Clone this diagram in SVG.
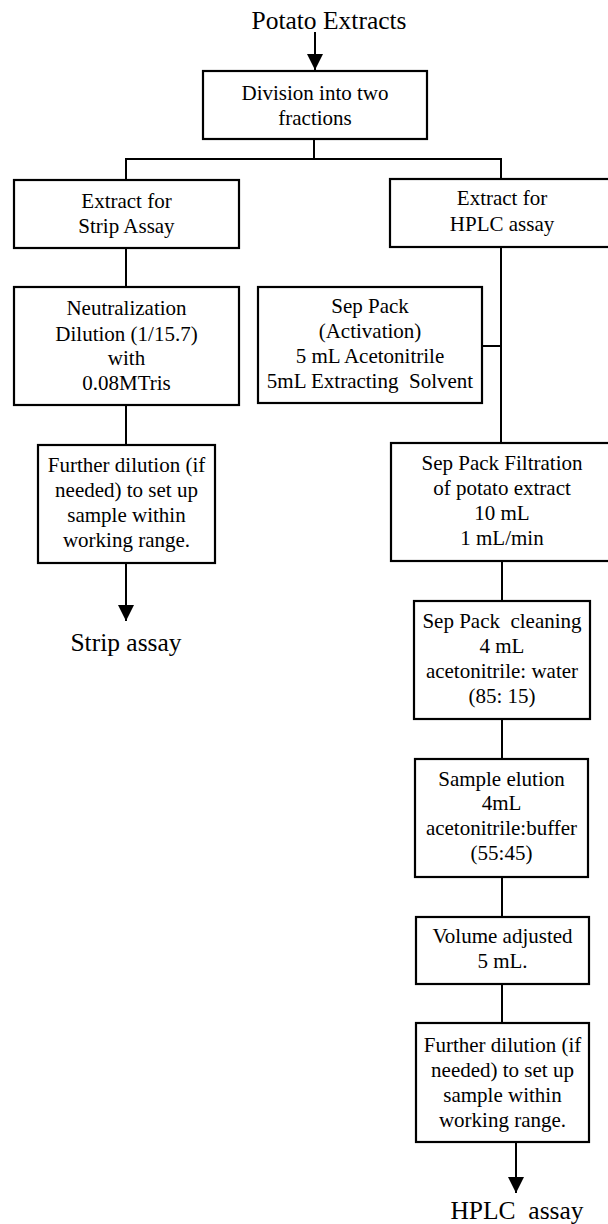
<svg xmlns="http://www.w3.org/2000/svg" width="608" height="1224" viewBox="0 0 608 1224">
<style>
  .box { fill: #ffffff; stroke: #000000; stroke-width: 2.2; }
  .ln { fill: none; stroke: #000000; stroke-width: 2; }
  text { font-family: "Liberation Serif", "Times New Roman", serif; fill: #000000; text-anchor: middle; }
  .t { font-size: 21px; }
  .lbl { font-size: 25.5px; }
</style>
<defs>
  <marker id="arr" viewBox="0 0 16 16" refX="16" refY="8" markerWidth="16" markerHeight="16" markerUnits="userSpaceOnUse" orient="auto">
    <path d="M0,0 L16,8 L0,16 Z" fill="#000000"/>
  </marker>
</defs>
<rect width="608" height="1224" fill="#ffffff"/>

<g id="connectors">
  <line class="ln" x1="315" y1="32" x2="315" y2="70" marker-end="url(#arr)"/>
  <line class="ln" x1="314" y1="139" x2="314" y2="159"/>
  <polyline class="ln" points="126,180 126,159 501,159 501,179"/>
  <line class="ln" x1="126" y1="248" x2="126" y2="287"/>
  <line class="ln" x1="126" y1="405" x2="126" y2="445"/>
  <line class="ln" x1="126" y1="563" x2="126" y2="621" marker-end="url(#arr)"/>
  <line class="ln" x1="501" y1="247" x2="501" y2="443"/>
  <line class="ln" x1="482" y1="346" x2="501" y2="346"/>
  <line class="ln" x1="502" y1="561" x2="502" y2="601"/>
  <line class="ln" x1="502" y1="719" x2="502" y2="759"/>
  <line class="ln" x1="502" y1="877" x2="502" y2="917"/>
  <line class="ln" x1="502" y1="984" x2="502" y2="1023"/>
  <line class="ln" x1="516" y1="1142" x2="516" y2="1193" marker-end="url(#arr)"/>
</g>

<g id="potato-extracts">
  <text class="lbl" x="329" y="29">Potato Extracts</text>
</g>

<g id="division">
  <rect class="box" x="203" y="71" width="224" height="68"/>
  <text class="t" x="315" y="100">Division into two</text>
  <text class="t" x="315" y="125">fractions</text>
</g>

<g id="extract-strip">
  <rect class="box" x="14" y="180" width="225" height="68"/>
  <text class="t" x="126.5" y="208">Extract for</text>
  <text class="t" x="126.5" y="233">Strip Assay</text>
</g>

<g id="neutralization">
  <rect class="box" x="14" y="287" width="225" height="118"/>
  <text class="t" x="126.5" y="315">Neutralization</text>
  <text class="t" x="126.5" y="341">Dilution (1/15.7)</text>
  <text class="t" x="126.5" y="365">with</text>
  <text class="t" x="126.5" y="390">0.08MTris</text>
</g>

<g id="further-dilution-strip">
  <rect class="box" x="38" y="445" width="177" height="118"/>
  <text class="t" x="126.5" y="472">Further dilution (if</text>
  <text class="t" x="126.5" y="497">needed) to set up</text>
  <text class="t" x="126.5" y="522">sample within</text>
  <text class="t" x="126.5" y="547">working range.</text>
</g>

<g id="strip-assay">
  <text class="lbl" x="126" y="651">Strip assay</text>
</g>

<g id="extract-hplc">
  <rect class="box" x="390" y="179" width="224" height="68"/>
  <text class="t" x="502" y="205">Extract for</text>
  <text class="t" x="502" y="231">HPLC assay</text>
</g>

<g id="sep-pack-activation">
  <rect class="box" x="258" y="287" width="224" height="116"/>
  <text class="t" x="370" y="313">Sep Pack</text>
  <text class="t" x="370" y="338">(Activation)</text>
  <text class="t" x="370" y="363">5 mL Acetonitrile</text>
  <text class="t" x="370" y="388" xml:space="preserve">5mL Extracting  Solvent</text>
</g>

<g id="sep-pack-filtration">
  <rect class="box" x="391" y="443" width="224" height="118"/>
  <text class="t" x="502" y="470">Sep Pack Filtration</text>
  <text class="t" x="502" y="495">of potato extract</text>
  <text class="t" x="502" y="520">10 mL</text>
  <text class="t" x="502" y="545">1 mL/min</text>
</g>

<g id="sep-pack-cleaning">
  <rect class="box" x="414" y="601" width="176" height="118"/>
  <text class="t" x="502" y="628" xml:space="preserve">Sep Pack  cleaning</text>
  <text class="t" x="502" y="653">4 mL</text>
  <text class="t" x="502" y="678">acetonitrile: water</text>
  <text class="t" x="502" y="703">(85: 15)</text>
</g>

<g id="sample-elution">
  <rect class="box" x="415" y="759" width="173" height="118"/>
  <text class="t" x="501.5" y="786">Sample elution</text>
  <text class="t" x="501.5" y="810">4mL</text>
  <text class="t" x="501.5" y="835">acetonitrile:buffer</text>
  <text class="t" x="501.5" y="860">(55:45)</text>
</g>

<g id="volume-adjusted">
  <rect class="box" x="416" y="917" width="173" height="67"/>
  <text class="t" x="502.5" y="943">Volume adjusted</text>
  <text class="t" x="502.5" y="968">5 mL.</text>
</g>

<g id="further-dilution-hplc">
  <rect class="box" x="416" y="1023" width="173" height="119"/>
  <text class="t" x="502.5" y="1052">Further dilution (if</text>
  <text class="t" x="502.5" y="1077">needed) to set up</text>
  <text class="t" x="502.5" y="1102">sample within</text>
  <text class="t" x="502.5" y="1127">working range.</text>
</g>

<g id="hplc-assay">
  <text class="lbl" x="517" y="1219" xml:space="preserve">HPLC  assay</text>
</g>
</svg>
